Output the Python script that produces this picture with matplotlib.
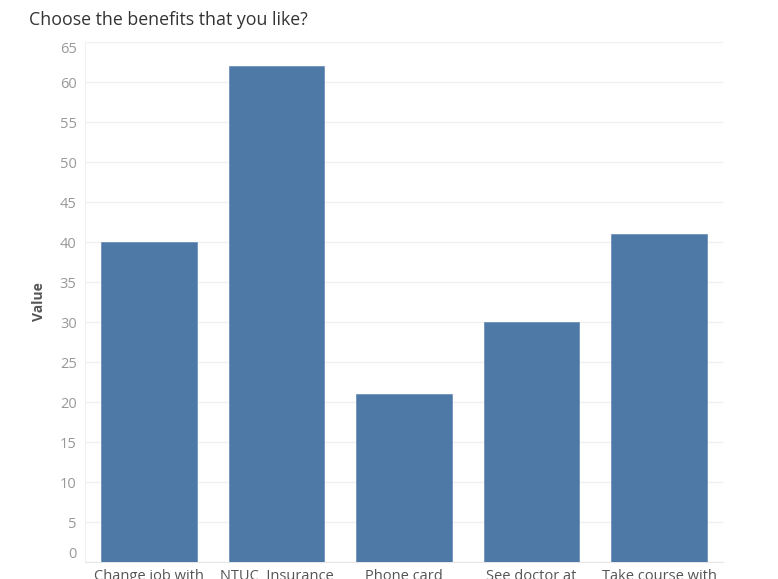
import matplotlib.pyplot as plt

categories = ["Change job with", "NTUC  Insurance", "Phone card", "See doctor at", "Take course with"]
values = [40, 62, 21, 30, 41]
yticks = list(range(0, 70, 5))

plt.rcParams['font.family'] = ['Open Sans', 'DejaVu Sans']

fig = plt.figure(figsize=(7.78, 5.79), dpi=100)
ax = fig.add_axes([85/778, 1 - 562/579, 638/778, 520/579])

x = range(len(categories))
ax.bar(x, values, width=0.75, color='#4e79a7', edgecolor='#6f93bd', linewidth=0.6, zorder=3)

ax.set_xlim(-0.5, len(categories) - 0.5)
ax.set_ylim(0, 65)
ax.set_yticks(yticks)
ax.set_xticks(list(x))
ax.set_xticklabels(categories, fontsize=10.5, color='#555555')
ax.tick_params(axis='x', length=0, pad=5)
ax.tick_params(axis='y', length=0, pad=6, labelsize=10.5, labelcolor='#999999')

labels = ax.get_yticklabels()
labels[0].set_va('bottom')
labels[-1].set_va('top')

ax.grid(axis='y', color='#f0f0f0', linewidth=1, zorder=0)
for s in ['top', 'right']:
    ax.spines[s].set_visible(False)
ax.spines['left'].set_color('#f0f0f0')
ax.spines['bottom'].set_color('#e6e6e6')

ax.set_ylabel('Value', fontsize=10, fontweight='bold', color='#555555', labelpad=10)

fig.text(29/778, 1 - 20/579, 'Choose the benefits that you like?', fontsize=12.8,
         color='#333333', va='center', ha='left')

fig.savefig('out.png', dpi=100)
